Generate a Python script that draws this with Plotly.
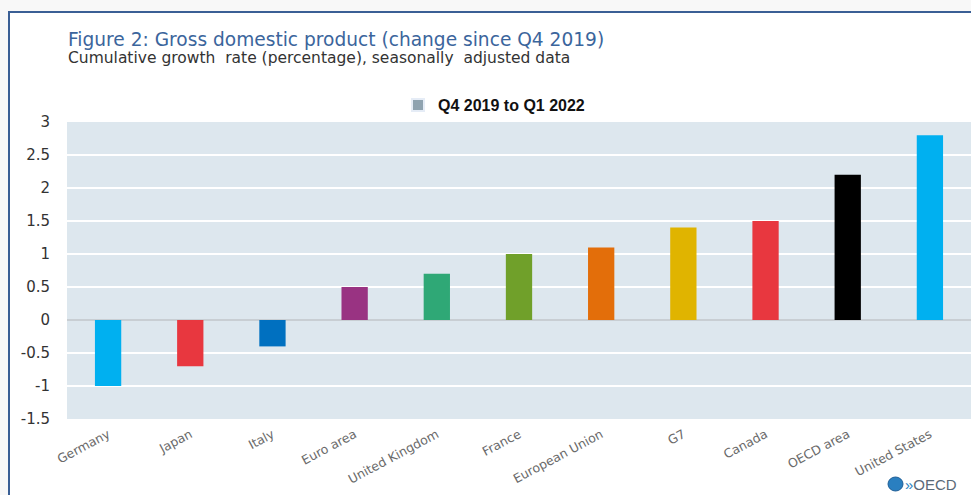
import plotly.graph_objects as go

countries = ["Germany", "Japan", "Italy", "Euro area", "United Kingdom", "France",
             "European Union", "G7", "Canada", "OECD area", "United States"]
growth = [-1.0, -0.7, -0.4, 0.5, 0.7, 1.0, 1.1, 1.4, 1.5, 2.2, 2.8]
bar_colors = ["#00B0F0", "#E8373F", "#0070C0", "#993382", "#2FA876", "#70A02A",
              "#E36E0A", "#E0B400", "#E8373F", "#000000", "#00B0F0"]
series_name = "Q4 2019 to Q1 2022"
y_ticks = [3, 2.5, 2, 1.5, 1, 0.5, 0, -0.5, -1, -1.5]

W, H = 971, 495
L, R, T, B = 67, 0, 122, 76
pw, ph = W - L - R, H - T - B

def px(x):
    return (x - L) / pw

def py(y):
    return (H - B - y) / ph

fig = go.Figure()
fig.add_trace(go.Bar(x=countries, y=growth, marker=dict(color=bar_colors, line=dict(width=0)),
                     width=0.32, showlegend=False, hoverinfo="x+y"))
fig.add_trace(go.Bar(x=[countries[0]], y=[None], name="<b>" + series_name + "</b>",
                     marker=dict(color="#8FA3B0"), showlegend=True))

fig.update_layout(
    width=W, height=H,
    margin=dict(l=L, r=R, t=T, b=B, pad=0),
    paper_bgcolor="#F8F8F8",
    plot_bgcolor="#DDE7EE",
    barmode="overlay",
    font=dict(family="DejaVu Sans", color="#333333"),
    shapes=[
        dict(type="rect", xref="paper", yref="paper", x0=px(9), x1=px(980), y0=py(505), y1=py(12),
             fillcolor="white", line=dict(color="#3A5F95", width=2), layer="below"),
        dict(type="rect", xref="paper", yref="paper", x0=0, x1=1, y0=0, y1=1,
             fillcolor="#DDE7EE", line=dict(width=0), layer="below"),
        dict(type="circle", xref="paper", yref="paper", x0=px(888), x1=px(903), y0=py(491), y1=py(477),
             fillcolor="#2A7FC0", line=dict(color="#1F5E96", width=1), layer="above"),
    ],
    annotations=[
        dict(text="Figure 2: Gross domestic product (change since Q4 2019)", xref="paper", yref="paper",
             x=px(66), y=py(40), xanchor="left", yanchor="middle", showarrow=False,
             font=dict(size=18.6, color="#3B659C", family="DejaVu Sans")),
        dict(text="Cumulative growth  rate (percentage), seasonally  adjusted data", xref="paper", yref="paper",
             x=px(66), y=py(58), xanchor="left", yanchor="middle", showarrow=False,
             font=dict(size=15.5, color="#333333", family="DejaVu Sans")),
        dict(text="<span style='color:#2A7FC0'>»</span>OECD", xref="paper", yref="paper",
             x=px(903), y=py(484), xanchor="left", yanchor="middle", showarrow=False,
             font=dict(size=15, color="#5A6A78", family="Liberation Sans")),
    ],
    legend=dict(orientation="h", x=px(398), y=py(105), xanchor="left", yanchor="middle",
                bgcolor="rgba(0,0,0,0)", font=dict(size=16, color="#111111", family="Liberation Sans"),
                itemsizing="constant", itemwidth=30),
)
fig.update_xaxes(showgrid=False, tickangle=-28, tickfont=dict(size=12.5, color="#6A6A6A"),
                 showline=False, ticks="", range=[-0.5, 10.5], ticklabelstandoff=5)
fig.update_yaxes(range=[-1.5, 3], tickvals=y_ticks, ticktext=[str(v) for v in y_ticks],
                 showgrid=True, gridcolor="#FFFFFF", gridwidth=1.5,
                 zeroline=True, zerolinecolor="#C8CED3", zerolinewidth=2,
                 tickfont=dict(size=15, color="#333333"), ticks="outside", ticklen=13,
                 tickcolor="rgba(0,0,0,0)", showline=False)

fig.write_html("out.html", config={"displayModeBar": False},
               post_script="document.body.style.margin='0';document.body.style.background='#F8F8F8';")
